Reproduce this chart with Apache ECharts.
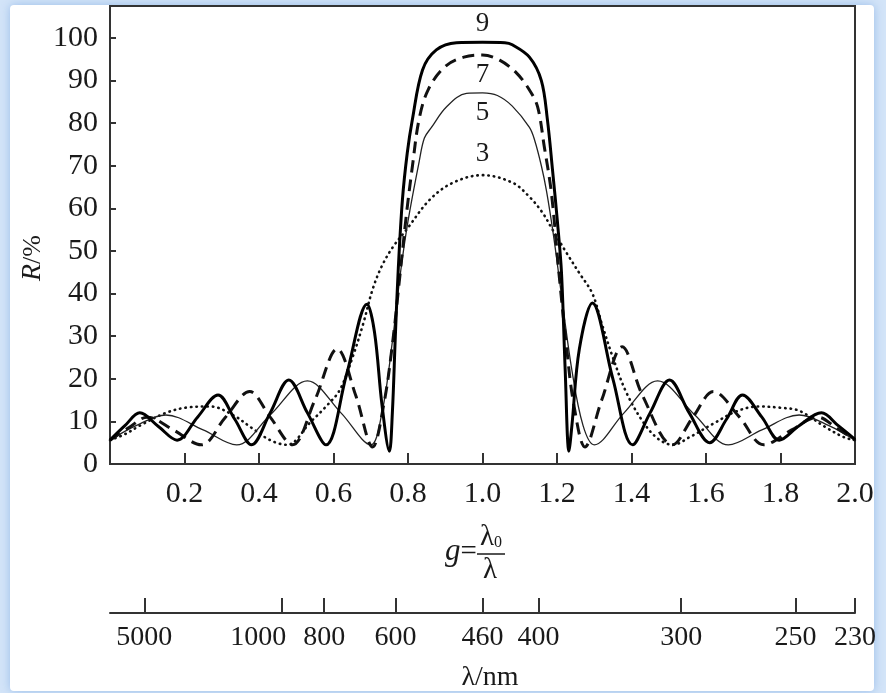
<!DOCTYPE html>
<html>
<head>
<meta charset="utf-8">
<script src="https://cdn.jsdelivr.net/npm/echarts/dist/echarts.min.js"></script>
<style>
  html, body { margin: 0; padding: 0; background: #d3e4f8; }
  #main { width: 886px; height: 693px; }
</style>
</head>
<body>
<div id="main"></div>
<script>
// 反射率 R(%) 随 g = λ0/λ 的变化, 3/5/7/9 层 λ/4 膜堆
var layers3 = [[0,5.6],[0.04,7],[0.08,9],[0.15,12],[0.21,13.3],[0.27,13.5],[0.33,11.5],[0.38,8.5],[0.43,5.6],[0.475,4.5],
  [0.54,10],[0.58,13.5],[0.617,17.4],[0.651,25],[0.68,33],[0.705,41],[0.73,46.5],[0.76,51],[0.796,55],[0.858,62],[0.92,66],
  [1.0,67.8],[1.081,66],[1.126,62.7],[1.161,59],[1.188,55],[1.226,49.5],[1.26,44.8],[1.295,40],[1.32,33],[1.35,25],
  [1.385,17],[1.43,10],[1.47,6],[1.51,4.5],[1.56,6.5],[1.62,9.5],[1.68,12.3],[1.74,13.5],[1.8,13.2],[1.85,12.5],[1.92,8.7],
  [1.97,6.3],[2.0,5.6]];
var layers5 = [[0,5.6],[0.07,9],[0.15,11.5],[0.25,8],[0.34,4.5],[0.43,11.5],[0.53,19.5],[0.62,12],[0.7,4.5],[0.73,12],
  [0.757,28],[0.78,45],[0.8,57],[0.83,71],[0.844,76.5],[0.863,79],[0.903,83.8],[0.957,87],[1.0,87.1],[1.04,86.5],[1.08,84],
  [1.126,79],[1.14,76],[1.158,70],[1.172,64],[1.19,54],[1.21,41],[1.24,22],[1.27,9],[1.3,4.5],[1.38,12],[1.47,19.5],
  [1.57,11.5],[1.66,4.5],[1.75,8],[1.85,11.5],[1.93,9],[2.0,5.6]];
var layers7 = [[0,5.6],[0.05,8.5],[0.1,11],[0.17,8],[0.245,4.5],[0.31,11],[0.375,17],[0.43,11],[0.49,4.5],[0.55,15],
  [0.61,27],[0.66,16],[0.705,4],[0.735,14],[0.758,28],[0.778,44],[0.795,58],[0.812,70],[0.83,81],[0.855,88],[0.9,93.3],
  [0.95,95.5],[1.0,96],[1.046,94.8],[1.091,91.8],[1.126,87.8],[1.148,83.8],[1.166,74.4],[1.185,63.6],[1.205,45],
  [1.225,28],[1.245,14],[1.275,4],[1.32,15],[1.375,27.5],[1.43,16],[1.51,4.5],[1.565,11],[1.62,17],[1.69,11],[1.755,4.5],
  [1.83,8],[1.9,11],[1.95,8.5],[2.0,5.6]];
var layers9 = [[0,5.6],[0.04,9],[0.08,12],[0.13,8.8],[0.18,5.6],[0.235,11],[0.29,16.2],[0.335,10.5],[0.38,4.5],[0.43,12],
  [0.48,19.7],[0.53,12],[0.58,4.5],[0.635,21],[0.69,37.5],[0.71,31],[0.73,14],[0.75,3],[0.758,12],[0.766,30],[0.774,46],
  [0.785,62],[0.798,73],[0.812,81],[0.839,92.5],[0.876,97.2],[0.93,98.9],[1.0,99],[1.06,98.9],[1.08,98.4],[1.126,95.5],
  [1.158,90],[1.174,81],[1.188,69],[1.201,57],[1.212,45],[1.222,22],[1.232,3],[1.24,9],[1.26,27],[1.295,37.8],[1.35,20],
  [1.403,4.5],[1.45,12],[1.502,19.7],[1.555,12],[1.61,5],[1.655,10.5],[1.698,16.2],[1.75,11],[1.797,5.6],[1.85,9],
  [1.91,12],[1.955,9],[2.0,5.8]];

var lambda0 = 460;  // nm, g = 1
var lambdaTicks = [5000, 1000, 800, 600, 460, 400, 300, 250, 230];
var layerNames = ['3', '5', '7', '9'];
var peakValues = [67.8, 87.1, 96, 99];

var serif = '"Liberation Serif", "DejaVu Serif", serif';
var ink = '#1a1a1a';

var myChart = echarts.init(document.getElementById('main'));

function peakLabel(name, value, dy) {
  return {
    silent: true,
    symbol: 'circle',
    symbolSize: 0,
    data: [{coord: [1.0, value]}],
    label: {show: true, formatter: name, offset: [0, dy], color: ink, fontSize: 27, fontFamily: serif}
  };
}

var lambdaG = lambdaTicks.map(function (l) { return lambda0 / l; });

var option = {
  backgroundColor: '#d3e4f8',
  animation: false,
  graphic: [
    {type: 'rect', z: -10, shape: {x: 10, y: 5, width: 864, height: 686, r: 4},
      style: {fill: '#fff', shadowBlur: 10, shadowColor: 'rgba(140,180,230,0.8)'}},
    {type: 'text', x: 33, y: 258, rotation: Math.PI / 2,
      style: {text: '{i|R}/%', rich: {i: {fontStyle: 'italic', fontSize: 28, fontFamily: serif}},
        fontSize: 26, fontFamily: serif, fill: ink, align: 'center', verticalAlign: 'middle'}},
    {type: 'text', x: 461, y: 552,
      style: {text: '{i|g}=', rich: {i: {fontStyle: 'italic', fontSize: 31, fontFamily: serif}},
        fontSize: 29, fontFamily: serif, fill: ink, align: 'center', verticalAlign: 'middle'}},
    {type: 'text', x: 491, y: 537,
      style: {text: 'λ{s|0}', rich: {s: {fontSize: 16, fontFamily: serif, padding: [12, 0, 0, 0]}},
        fontSize: 29, fontFamily: serif, fill: ink, align: 'center', verticalAlign: 'middle'}},
    {type: 'line', shape: {x1: 477, y1: 554, x2: 505, y2: 554}, style: {stroke: ink, lineWidth: 1.5}},
    {type: 'text', x: 490, y: 570,
      style: {text: 'λ', fontSize: 29, fontFamily: serif, fill: ink, align: 'center', verticalAlign: 'middle'}},
    {type: 'text', x: 490, y: 678,
      style: {text: 'λ/nm', fontSize: 28, fontFamily: serif, fill: ink, align: 'center', verticalAlign: 'middle'}}
  ],
  grid: [
    {left: 110, top: 6, width: 745, height: 458, show: true, borderColor: '#333', borderWidth: 2, backgroundColor: '#fff'},
    {left: 110, top: 598, width: 745, height: 15}
  ],
  xAxis: [{
    gridIndex: 0, type: 'value', min: 0, max: 2, interval: 0.2,
    axisLine: {lineStyle: {color: '#333', width: 2}},
    axisTick: {inside: true, length: 11, lineStyle: {color: '#333', width: 2}},
    axisLabel: {
      margin: 15, color: ink, fontSize: 30, fontFamily: serif,
      formatter: function (v) { return v === 0 ? '' : v.toFixed(1); }
    },
    splitLine: {show: false}
  }, {
    gridIndex: 1, type: 'value', min: 0, max: 2,
    axisLine: {onZero: false, lineStyle: {color: '#333', width: 2}},
    axisTick: {inside: true, length: 15, customValues: lambdaG, lineStyle: {color: '#333', width: 2}},
    axisLabel: {
      margin: 11, color: ink, fontSize: 28, fontFamily: serif, customValues: lambdaG,
      formatter: function (v) {
        var l = Math.round(lambda0 / v);
        return l === 1000 ? '{w|' + l + '}' : String(l);
      },
      rich: {w: {fontSize: 28, fontFamily: serif, color: ink, padding: [0, 46, 0, 0]}}
    },
    splitLine: {show: false}
  }],
  yAxis: [{
    gridIndex: 0, type: 'value', min: 0, max: 107.5, interval: 10,
    axisLine: {lineStyle: {color: '#333', width: 2}},
    axisTick: {inside: true, length: 6, lineStyle: {color: '#333', width: 2}},
    axisLabel: {
      margin: 12, color: ink, fontSize: 30, fontFamily: serif,
      formatter: function (v) { return v > 100 ? '' : String(v); }
    },
    splitLine: {show: false}
  }, {
    gridIndex: 1, type: 'value', min: 0, max: 1, show: false
  }],
  series: [{
    name: layerNames[0], type: 'line', data: layers3, showSymbol: false, smooth: 0.35,
    lineStyle: {color: '#111', width: 2.6, type: [0.5, 5], cap: 'round'},
    markPoint: peakLabel(layerNames[0], peakValues[0], -21)
  }, {
    name: layerNames[1], type: 'line', data: layers5, showSymbol: false, smooth: 0.35,
    lineStyle: {color: '#222', width: 1.3},
    markPoint: peakLabel(layerNames[1], peakValues[1], 20)
  }, {
    name: layerNames[2], type: 'line', data: layers7, showSymbol: false, smooth: 0.35,
    lineStyle: {color: '#111', width: 3, type: [12, 7]},
    markPoint: peakLabel(layerNames[2], peakValues[2], 20)
  }, {
    name: layerNames[3], type: 'line', data: layers9, showSymbol: false, smooth: 0.35,
    lineStyle: {color: '#000', width: 3},
    markPoint: peakLabel(layerNames[3], peakValues[3], -18)
  }]
};
myChart.setOption(option, true);
window.addEventListener('resize', function () {
  myChart.resize();
});
</script>
</body>
</html>
